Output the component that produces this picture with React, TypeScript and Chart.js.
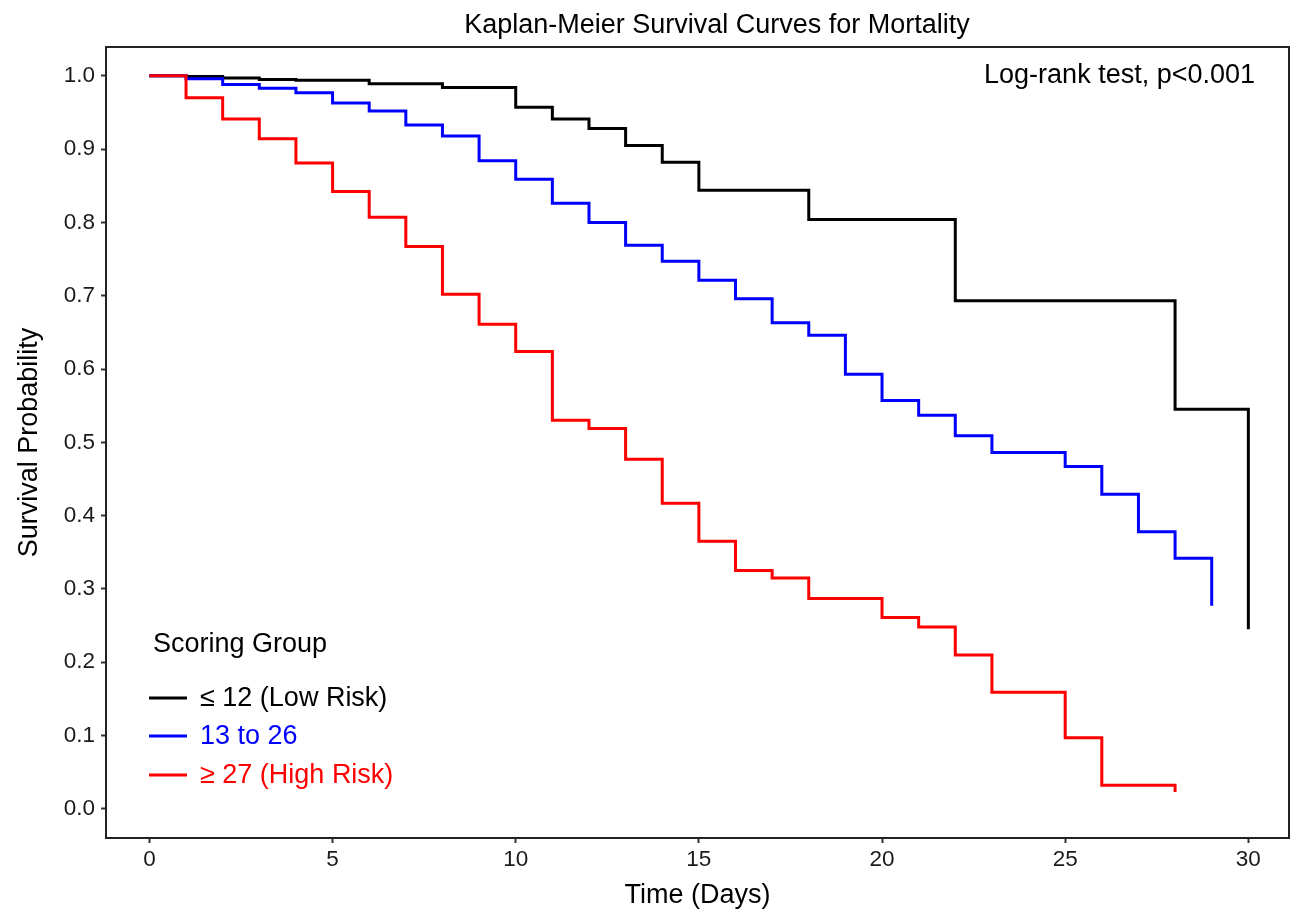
import React, { useEffect, useRef } from "react";
import { Chart, registerables } from "chart.js";

Chart.register(...registerables);

// ---- Data ----
const lowTimes = [0, 1, 2, 3, 4, 6, 8, 10, 11, 12, 13, 14, 15, 18, 22, 28, 30];
const lowSurv = [1.0, 0.999, 0.997, 0.995, 0.994, 0.989, 0.984, 0.957, 0.941, 0.928, 0.905, 0.882, 0.844, 0.804, 0.693, 0.545, 0.245];

const midTimes = [0, 1, 2, 3, 4, 5, 6, 7, 8, 9, 10, 11, 12, 13, 14, 15, 16, 17, 18, 19, 20, 21, 22, 23, 25, 26, 27, 28, 29];
const midSurv = [1.0, 0.996, 0.988, 0.983, 0.977, 0.963, 0.952, 0.933, 0.918, 0.884, 0.859, 0.826, 0.8, 0.769, 0.747, 0.721, 0.696, 0.663, 0.646, 0.593, 0.557, 0.537, 0.509, 0.486, 0.467, 0.429, 0.378, 0.342, 0.277];

const highTimes = [0, 1, 2, 3, 4, 5, 6, 7, 8, 9, 10, 11, 12, 13, 14, 15, 16, 17, 18, 20, 21, 22, 23, 25, 26, 28];
const highSurv = [1.0, 0.97, 0.941, 0.914, 0.881, 0.842, 0.807, 0.767, 0.702, 0.661, 0.624, 0.53, 0.519, 0.477, 0.417, 0.365, 0.325, 0.315, 0.287, 0.261, 0.248, 0.21, 0.159, 0.097, 0.032, 0.023];

const groupLabels = ["\u2264 12 (Low Risk)", "13 to 26", "\u2265 27 (High Risk)"];
const groupColors = ["#000000", "#0000FF", "#FF0000"];

const xTicks = [0, 5, 10, 15, 20, 25, 30];
const yTicks = [0, 0.1, 0.2, 0.3, 0.4, 0.5, 0.6, 0.7, 0.8, 0.9, 1.0];

const titleText = "Kaplan-Meier Survival Curves for Mortality";
const xTitle = "Time (Days)";
const yTitle = "Survival Probability";
const legendTitle = "Scoring Group";
const pValueText = "Log-rank test, p<0.001";

const FONT = '"Liberation Sans", Arial, Helvetica, sans-serif';
const TEXT = "#1a1a1a";

const toPoints = (t: number[], s: number[]) => t.map((x, i) => ({ x, y: s[i] }));

const overlay = {
  id: "overlay",
  afterDraw(chart: any) {
    const { ctx, chartArea } = chart;
    const { left, top, right, bottom } = chartArea;
    ctx.save();
    // panel border (top & right)
    ctx.strokeStyle = "#222";
    ctx.lineWidth = 2;
    ctx.beginPath();
    ctx.moveTo(left, top);
    ctx.lineTo(right, top);
    ctx.lineTo(right, bottom);
    ctx.stroke();

    // title
    ctx.fillStyle = "#000";
    ctx.font = `27px ${FONT}`;
    ctx.textAlign = "center";
    ctx.textBaseline = "alphabetic";
    ctx.fillText(titleText, 717, 33);

    // x title
    ctx.fillText(xTitle, (left + right) / 2, 903);

    // y title
    ctx.save();
    ctx.translate(37, (top + bottom) / 2);
    ctx.rotate(-Math.PI / 2);
    ctx.textAlign = "center";
    ctx.fillText(yTitle, 0, 0);
    ctx.restore();

    // p-value annotation
    ctx.textAlign = "right";
    ctx.fillText(pValueText, 1255, 83);

    // legend
    ctx.textAlign = "left";
    ctx.fillText(legendTitle, 153, 652);
    const rows = [698, 736, 775];
    groupLabels.forEach((lab, i) => {
      const y = rows[i];
      ctx.strokeStyle = groupColors[i];
      ctx.lineWidth = 3;
      ctx.beginPath();
      ctx.moveTo(149, y);
      ctx.lineTo(187, y);
      ctx.stroke();
      ctx.fillStyle = groupColors[i];
      ctx.textBaseline = "middle";
      ctx.fillText(lab, 200, y + 1);
    });
    ctx.restore();
  },
};

export default function App() {
  const canvasRef = useRef<HTMLCanvasElement | null>(null);

  useEffect(() => {
    if (!canvasRef.current) return;
    const series = [
      { t: lowTimes, s: lowSurv, order: 3 },
      { t: midTimes, s: midSurv, order: 2 },
      { t: highTimes, s: highSurv, order: 1 },
    ];
    const chart = new Chart(canvasRef.current, {
      type: "line",
      data: {
        datasets: series.map((g, i) => ({
          label: groupLabels[i],
          data: toPoints(g.t, g.s),
          borderColor: groupColors[i],
          backgroundColor: groupColors[i],
          borderWidth: 3,
          stepped: "before" as const,
          pointRadius: 0,
          fill: false,
          order: g.order,
        })),
      },
      options: {
        animation: false,
        responsive: false,
        maintainAspectRatio: false,
        layout: { padding: { left: 0, top: 47, right: 1, bottom: 0 } },
        plugins: {
          legend: { display: false },
          title: { display: false },
          tooltip: { enabled: false },
        },
        scales: {
          x: {
            type: "linear",
            min: -1.185,
            max: 31.11,
            afterBuildTicks: (scale: any) => {
              scale.ticks = xTicks.map((v) => ({ value: v }));
            },
            afterFit: (scale: any) => {
              scale.height = 77;
            },
            ticks: {
              autoSkip: false,
              maxRotation: 0,
              padding: 3,
              color: TEXT,
              font: { family: FONT, size: 22.5 },
              callback: (v: any) => String(v),
            },
            grid: {
              display: true,
              drawOnChartArea: false,
              drawTicks: true,
              tickLength: 5,
              tickWidth: 2,
              tickColor: "#333",
            },
            border: { display: true, color: "#222", width: 2 },
          },
          y: {
            type: "linear",
            min: -0.0398,
            max: 1.0393,
            afterBuildTicks: (scale: any) => {
              scale.ticks = yTicks.map((v) => ({ value: v }));
            },
            afterFit: (scale: any) => {
              scale.width = 106;
            },
            ticks: {
              autoSkip: false,
              padding: 6,
              color: TEXT,
              font: { family: FONT, size: 22.5 },
              callback: (v: any) => Number(v).toFixed(1),
            },
            grid: {
              display: true,
              drawOnChartArea: false,
              drawTicks: true,
              tickLength: 5,
              tickWidth: 2,
              tickColor: "#333",
            },
            border: { display: true, color: "#222", width: 2 },
          },
        },
      },
      plugins: [overlay],
    });
    return () => chart.destroy();
  }, []);

  return (
    <div style={{ position: "fixed", left: 0, top: 0, width: 1290, height: 915, background: "#fff" }}>
      <canvas ref={canvasRef} width={1290} height={915} style={{ display: "block" }} />
    </div>
  );
}
